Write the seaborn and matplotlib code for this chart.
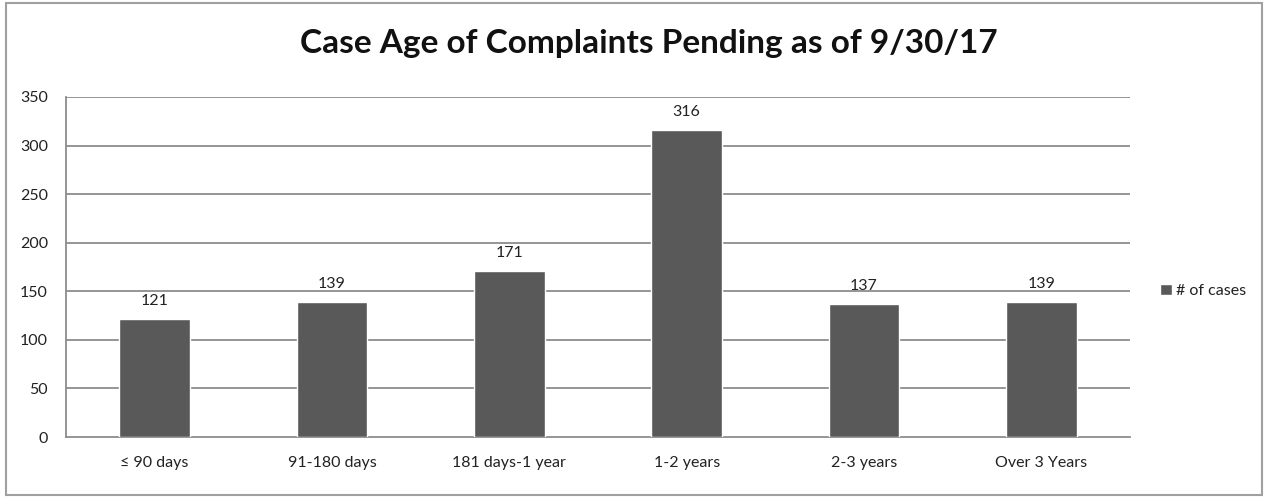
import matplotlib
matplotlib.use("Agg")
import matplotlib.pyplot as plt
import seaborn as sns
import pandas as pd
import numpy as np
from matplotlib.patches import Rectangle

categories = ["≤ 90 days", "91-180 days", "181 days-1 year", "1-2 years", "2-3 years", "Over 3 Years"]
cases = [121, 139, 171, 316, 137, 139]
series_name = "# of cases"
yticks = [0, 50, 100, 150, 200, 250, 300, 350]
title = "Case Age of Complaints Pending as of 9/30/17"

sns.set_theme(style="white")
plt.rcParams['font.family'] = ['Lato', 'DejaVu Sans']

df = pd.DataFrame({"category": categories, "cases": cases, "series": series_name})

fig = plt.figure(figsize=(12.67, 4.98), dpi=100)
ax = fig.add_axes([66/1267, 1-437/498, (1130-66)/1267, (437-97)/498])

grid_color = "#8c8c8c"
bar_color = "#595959"
text_color = "#222222"

sns.barplot(data=df, x="category", y="cases", hue="series", palette=[bar_color],
            width=0.4, ax=ax, zorder=3, saturation=1, legend=True)

ax.set_ylim(0, 350)
ax.set_xlim(-0.5, len(categories) - 0.5)
ax.set_yticks(yticks)
ax.set_yticklabels([str(v) for v in yticks], fontsize=11.5, color=text_color)
ax.set_xticks(range(len(categories)))
ax.set_xticklabels(categories, fontsize=11.5, color=text_color)
ax.set_xlabel("")
ax.set_ylabel("")

for y in yticks[1:]:
    ax.axhline(y, color=grid_color, lw=1.3, zorder=1)

for sp in ["top", "right"]:
    ax.spines[sp].set_visible(False)
for sp in ["left", "bottom"]:
    ax.spines[sp].set_color(grid_color)
    ax.spines[sp].set_linewidth(1.3)

ax.tick_params(axis="x", which="major", length=0, pad=14)
ax.set_xticks(np.arange(-0.5, len(categories), 1.0), minor=True)
ax.tick_params(axis="x", which="minor", length=6, color=grid_color, width=1.3, direction="out")
ax.tick_params(axis="y", which="major", length=7, color=grid_color, width=1.3, direction="out", pad=6)

for c in ax.containers:
    ax.bar_label(c, labels=[str(v) for v in cases], padding=8, fontsize=11.5, color=text_color)

leg = ax.legend(loc="center left", bbox_to_anchor=(1.0, 0.43), frameon=False, fontsize=11.5,
                handlelength=0.7, handleheight=0.7, handletextpad=0.3, borderaxespad=1.5)
for t in leg.get_texts():
    t.set_color(text_color)

fig.text(649/1267, 1-44/498, title, ha="center", va="center", fontsize=24, fontweight="bold", color="#111111")

fig.patches.append(Rectangle((6/1267, 3/498), 1256/1267, 492/498, transform=fig.transFigure,
                             fill=False, edgecolor="#a0a0a0", lw=1.5))

fig.savefig("out.png", dpi=100, facecolor="white")
